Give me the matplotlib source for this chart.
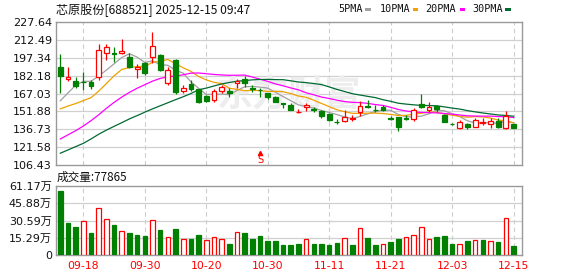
import matplotlib
matplotlib.use('Agg')
import matplotlib.pyplot as plt
from matplotlib.patches import Rectangle
import numpy as np

title = '芯原股份[688521] 2025-12-15 09:47'
vol_title = '成交量:77865'
watermark = '东方财富'

opens = [189.75, 179.58, 177.63, 176.6, 177.0, 181.28, 201.11, 201.62, 201.11, 198.23,
         187.38, 192.89, 197.72, 199.25, 176.11, 195.43, 169.33, 175.09, 170.6, 164.92,
         161.53, 168.9, 169.16, 175.94, 179.33, 171.53, 170.17, 167.46, 164.07, 158.98,
         157.71, 151.44, 155.34, 153.9, 152.46, 149.41, 143.3, 143.73, 145.17, 151.1,
         156.02, 153.3, 155.85, 146.27, 147.12, 146.27, 145.17, 157.88, 153.05, 156.44,
         148.81, 141.36, 138.05, 140.93, 138.9, 142.4, 140.93, 143.73, 138.05, 141.19]
highs = [200.26, 189.24, 180.77, 185.51, 178.48, 208.74, 209.0, 206.2, 213.23, 201.11,
         192.21, 193.99, 218.74, 200.52, 189.75, 196.0, 173.82, 178.48, 171.27, 165.77,
         170.6, 174.66, 171.87, 179.33, 181.62, 174.24, 171.7, 167.7, 164.5, 159.24,
         158.56, 153.9, 158.73, 155.34, 153.05, 150.25, 145.17, 153.05, 148.81, 160.68,
         161.53, 157.29, 157.29, 147.97, 147.3, 148.81, 154.49, 166.36, 159.58, 157.29,
         149.41, 142.28, 144.58, 141.78, 146.02, 146.02, 146.02, 146.02, 152.2, 141.19]
lows = [167.21, 177.38, 171.44, 170.0, 170.85, 178.48, 195.43, 194.0, 200.26, 188.9,
        180.17, 182.72, 192.9, 186.2, 174.58, 166.78, 167.21, 169.16, 158.9, 159.41,
        159.83, 167.04, 164.07, 171.7, 172.8, 168.31, 163.82, 162.37, 159.83, 154.49,
        152.63, 150.25, 152.2, 151.61, 146.02, 143.73, 140.93, 143.13, 143.98, 148.22,
        154.49, 151.61, 152.2, 144.58, 135.51, 144.58, 143.98, 154.49, 151.61, 151.61,
        142.6, 140.34, 136.95, 136.95, 138.39, 140.34, 137.54, 138.05, 136.95, 138.05]
closes = [182.12, 181.28, 173.65, 176.5, 173.65, 203.9, 206.7, 200.26, 203.06, 189.75,
          189.5, 183.99, 207.3, 186.8, 187.1, 168.31, 171.95, 170.6, 159.41, 160.68,
          169.16, 172.8, 167.88, 177.46, 176.19, 170.98, 169.66, 163.65, 160.09, 157.88,
          153.47, 151.7, 157.29, 152.8, 148.22, 144.58, 143.0, 147.37, 146.02, 156.7,
          155.6, 152.9, 153.1, 145.76, 138.9, 145.76, 153.05, 155.7, 156.0, 153.9,
          143.14, 141.02, 143.14, 138.39, 144.58, 142.6, 143.73, 138.9, 147.97, 138.05]
# volume in 万手
volumes = [56.8, 28.5, 25.0, 30.0, 19.7, 41.5, 31.8, 26.8, 21.5, 19.7,
           17.9, 17.1, 30.9, 22.4, 15.9, 23.2, 14.1, 14.4, 17.9, 13.5,
           15.9, 14.4, 10.0, 20.3, 19.7, 14.4, 17.1, 12.6, 12.6, 9.1,
           9.0, 9.8, 14.8, 9.8, 9.8, 8.9, 10.6, 15.7, 8.9, 24.5,
           15.1, 8.9, 10.3, 11.5, 14.2, 16.5, 18.3, 25.4, 14.8, 16.0,
           16.8, 9.8, 10.3, 12.4, 13.9, 13.3, 13.0, 11.5, 32.5, 7.7865]

# moving-average values at the start of the window (need earlier history)
ma5_head = [160.9, 167.5, 174.0, 177.3]
ma10_head = [154.0, 156.4, 158.5, 161.0, 163.5, 169.0, 175.5, 182.0, 187.4]
ma20_head = [128.5, 132.0, 135.5, 139.5, 144.0, 149.0, 154.5, 159.5, 164.0, 168.0,
             171.5, 174.5, 177.5, 179.8, 181.2, 181.9, 182.9, 184.3, 184.4]
ma30_head = [116.4, 119.2, 122.0, 124.8, 128.5, 132.5, 136.0, 139.2, 142.3, 145.5,
             148.3, 151.2, 154.0, 156.6, 159.2, 161.8, 164.3, 167.0, 170.2, 171.6,
             173.4, 175.1, 176.4, 177.4, 178.0, 178.6, 178.9, 179.0, 178.8]

price_ticks = [106.43, 121.58, 136.73, 151.88, 167.03, 182.18, 197.34, 212.49, 227.64]
vol_ticks = [0, 15.29, 30.59, 45.88, 61.17]
date_idx = [3, 11, 19, 27, 35, 43, 51, 59]
date_labels = ['09-18', '09-30', '10-20', '10-30', '11-11', '11-21', '12-03', '12-15']
ma_names = ['5PMA', '10PMA', '20PMA', '30PMA']
ma_colors = ['#a0a0a0', '#f0a000', '#ff00ff', '#006a33']
signal_idx = 26

RED = '#ff0000'
GREEN = '#008000'
W, H = 578, 276


def moving_avg(vals, n, head):
    out = list(head)
    for i in range(len(head), len(vals)):
        out.append(float(np.mean(vals[i - n + 1:i + 1])))
    return out


ma_series = [moving_avg(closes, 5, ma5_head), moving_avg(closes, 10, ma10_head),
             moving_avg(closes, 20, ma20_head), moving_avg(closes, 30, ma30_head)]

fig = plt.figure(figsize=(W / 100, H / 100), dpi=100)
fig.patch.set_facecolor('white')


def fx(px):
    return px / W


def fy(py):
    return 1 - py / H


axp = fig.add_axes([fx(56), fy(165), fx(522) - fx(56), fy(22) - fy(165)])
axv = fig.add_axes([fx(56), fy(255.3), fx(522) - fx(56), fy(186) - fy(255.3)])

n = len(closes)
x = np.arange(n)
o = np.array(opens); c = np.array(closes); hi = np.array(highs); lo = np.array(lows)
up = c > o

for ax in (axp, axv):
    ax.set_xlim(-0.56, 60.1)
    for s in ax.spines.values():
        s.set_color('#999999')
        s.set_linewidth(1.0)
    ax.tick_params(length=0, labelsize=8, colors='#111111', pad=3)
    for xi in date_idx:
        ax.axvline(xi, color='#cccccc', lw=0.8, ls=(0, (4, 3)), zorder=0)

axp.set_ylim(price_ticks[0], price_ticks[-1])
axp.set_yticks(price_ticks)
axp.set_yticklabels([f'{t:.2f}' for t in price_ticks])
axp.set_xticks([])
for t in price_ticks[1:-1]:
    axp.axhline(t, color='#d0d0d0', lw=0.9, zorder=0)

axp.text(0.50, 0.49, watermark, transform=axp.transAxes, ha='center', va='center',
         fontsize=26, color='#ededed', family=['Noto Sans CJK SC'], fontweight='bold',
         style='italic', zorder=0)

# MA lines
for vals, col in zip(ma_series, ma_colors):
    axp.plot(x, vals, color=col, lw=0.9, zorder=2)

# candles
wick_col = [RED if u else GREEN for u in up]
axp.vlines(x, lo, hi, colors=wick_col, lw=0.9, zorder=3)
body_h = np.maximum(np.abs(c - o), 0.25)
axp.bar(x, body_h, bottom=np.minimum(o, c), width=0.62,
        color=['white' if u else GREEN for u in up],
        edgecolor=wick_col, linewidth=0.9, zorder=4)

# sell signal
axp.text(signal_idx, 106.43 + 4.5, 'S', color=RED, fontsize=7, ha='center', va='center',
         zorder=5)
axp.plot([signal_idx], [106.43 + 10.3], marker='^', color=RED, ms=3, zorder=5)

# volume
prev = np.concatenate([[o[0]], c[:-1]])
vup = c > prev
vcol = [RED if u else GREEN for u in vup]
axv.bar(x, volumes, width=0.6, color=['white' if u else GREEN for u in vup],
        edgecolor=vcol, linewidth=0.9, zorder=3)
axv.set_ylim(0, vol_ticks[-1])
axv.set_yticks(vol_ticks)
axv.set_yticklabels(['0'] + [f'{t:.2f}万' for t in vol_ticks[1:]],
                    family=['DejaVu Sans', 'Noto Sans CJK SC'])
for t in vol_ticks[1:-1]:
    axv.axhline(t, color='#d0d0d0', lw=0.9, zorder=0)
axv.set_xticks(date_idx)
axv.set_xticklabels(date_labels, color=RED, fontsize=7.8)
axv.tick_params(axis='x', pad=4)

# titles
fig.text(fx(56), fy(9.5), title, ha='left', va='center', fontsize=8.7,
         family=['Noto Sans CJK SC'], color='#111111')
fig.text(fx(57), fy(177.5), vol_title, ha='left', va='center', fontsize=8.4,
         family=['Noto Sans CJK SC'], color='#111111')

# legend
leg_text_x = [338, 380, 425.5, 472]
leg_mark_x = [365, 412.5, 459.5, 505]
for name, col, tx, mx in zip(ma_names, ma_colors, leg_text_x, leg_mark_x):
    fig.text(fx(tx), fy(9.5), name, ha='left', va='center', fontsize=7.3,
             family=['DejaVu Sans Mono'], color='#111111')
    fig.add_artist(Rectangle((fx(mx), fy(11)), fx(5.5), fy(8) - fy(11),
                             transform=fig.transFigure, color=col, lw=0))

fig.savefig('out.png', dpi=100, facecolor='white')
